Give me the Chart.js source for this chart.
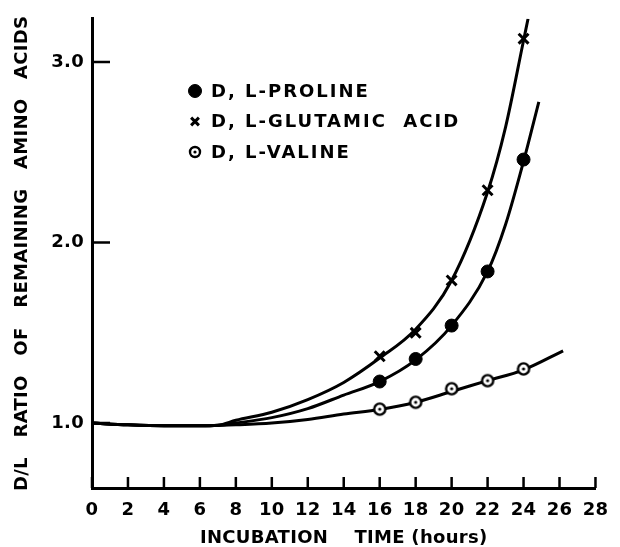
<!DOCTYPE html>
<html>
<head>
<meta charset="utf-8">
<script src="https://cdn.jsdelivr.net/npm/chart.js@4/dist/chart.umd.min.js"></script>
<style>
  html, body { margin: 0; padding: 0; background: #fff; }
</style>
</head>
<body>
<canvas id="chart" width="620" height="547"></canvas>
<script>
// Measured points (hours, D/L ratio)
const pointHours = [16, 18, 20, 22, 24];
const prolineValues = [1.23, 1.355, 1.54, 1.84, 2.46];
const glutamicValues = [1.37, 1.50, 1.79, 2.29, 3.13];
const valineValues = [1.077, 1.115, 1.19, 1.235, 1.30];

// Hand-drawn fitted curves
const glutamicCurveHours = [0, 2, 4, 6, 7, 8, 10, 12, 14, 16, 18, 20, 22, 23, 24, 24.25];
const glutamicCurve = [1.0, 0.99, 0.985, 0.985, 0.988, 1.015, 1.06, 1.13, 1.225, 1.36, 1.52, 1.79, 2.28, 2.64, 3.12, 3.24];
const prolineCurveHours = [0, 2, 4, 6, 7, 8, 10, 12, 14, 16, 18, 20, 22, 23, 24, 24.85];
const prolineCurve = [1.0, 0.99, 0.985, 0.985, 0.988, 1.0, 1.03, 1.08, 1.155, 1.23, 1.35, 1.54, 1.84, 2.1, 2.45, 2.78];
const valineCurveHours = [0, 2, 4, 6, 7, 8, 10, 12, 14, 16, 18, 20, 22, 24, 26.2];
const valineCurve = [1.0, 0.99, 0.985, 0.985, 0.987, 0.99, 1.0, 1.02, 1.05, 1.075, 1.115, 1.175, 1.235, 1.295, 1.40];

const xTicks = [0, 2, 4, 6, 8, 10, 12, 14, 16, 18, 20, 22, 24, 26, 28];
const yTicks = [1.0, 2.0, 3.0];
const seriesLabels = ['D, L-PROLINE', 'D, L-GLUTAMIC  ACID', 'D, L-VALINE'];

const pairs = (xs, ys) => xs.map((x, i) => ({ x, y: ys[i] }));

// open circle with a dot, for valine
function ringDot(r) {
  const s = Math.ceil(r * 2 + 4);
  const c = document.createElement('canvas');
  c.width = c.height = s;
  const g = c.getContext('2d');
  g.beginPath(); g.arc(s / 2, s / 2, r, 0, Math.PI * 2);
  g.fillStyle = '#fff'; g.fill();
  g.lineWidth = 2.4; g.strokeStyle = '#000'; g.stroke();
  g.beginPath(); g.arc(s / 2, s / 2, 1.6, 0, Math.PI * 2);
  g.fillStyle = '#000'; g.fill();
  return c;
}
const ring = ringDot(5.6);
const ringSmall = ringDot(5);

const markerSets = [
  { label: seriesLabels[0], data: pairs(pointHours, prolineValues), pointStyle: 'circle', pointRadius: 6.5, borderWidth: 1 },
  { label: seriesLabels[1], data: pairs(pointHours, glutamicValues), pointStyle: 'crossRot', pointRadius: 7, borderWidth: 3 },
  { label: seriesLabels[2], data: pairs(pointHours, valineValues), pointStyle: ring, pointRadius: 8, borderWidth: 0 }
].map(d => Object.assign({ type: 'scatter', showLine: false, backgroundColor: '#000', borderColor: '#000', pointHoverRadius: d.pointRadius }, d));

const curve = (xs, ys) => ({
  type: 'line', label: '', data: pairs(xs, ys), borderColor: '#000', borderWidth: 3,
  pointRadius: 0, cubicInterpolationMode: 'monotone', fill: false
});

// inward tick marks on both axes
const innerTicks = {
  id: 'innerTicks',
  afterDraw(chart) {
    const { ctx, chartArea: a, scales: { x, y } } = chart;
    ctx.save();
    ctx.strokeStyle = '#000';
    ctx.lineWidth = 2.5;
    ctx.beginPath();
    xTicks.forEach(v => {
      const px = x.getPixelForValue(v);
      ctx.moveTo(px, a.bottom); ctx.lineTo(px, a.bottom - 11);
    });
    yTicks.forEach(v => {
      const py = y.getPixelForValue(v);
      ctx.moveTo(a.left, py); ctx.lineTo(a.left + 18, py);
    });
    ctx.stroke();
    ctx.restore();
  }
};

// legend inside the plot, upper left
const legendStyles = [
  { pointStyle: 'circle', radius: 6.5, borderWidth: 1 },
  { pointStyle: 'crossRot', radius: 5.5, borderWidth: 3 },
  { pointStyle: ringSmall, radius: 7, borderWidth: 0 }
];
const innerLegend = {
  id: 'innerLegend',
  afterDraw(chart) {
    const { ctx } = chart;
    ctx.save();
    ctx.font = 'bold 18px "DejaVu Sans", sans-serif';
    ctx.letterSpacing = '2px';
    ctx.textBaseline = 'middle';
    markerSets.forEach((d, i) => {
      const yy = 91 + i * 30.5;
      const st = legendStyles[i];
      ctx.lineWidth = st.borderWidth;
      ctx.strokeStyle = '#000';
      ctx.fillStyle = '#000';
      Chart.helpers.drawPoint(ctx, Object.assign({ backgroundColor: '#000', borderColor: '#000', rotation: 0 }, st), 195, yy);
      ctx.fillStyle = '#000';
      ctx.fillText(d.label, 211, yy + 1);
    });
    ctx.restore();
  }
};

const textSpacing = {
  id: 'textSpacing',
  beforeDraw(chart) { chart.ctx.letterSpacing = '0.3px'; }
};

const tickFont = { family: '"DejaVu Sans", sans-serif', size: 18, weight: 'bold' };
const titleFont = { family: '"DejaVu Sans", sans-serif', size: 18, weight: 'bold', lineHeight: 1.0 };

new Chart(document.getElementById('chart'), {
  data: {
    datasets: markerSets.concat([
      curve(glutamicCurveHours, glutamicCurve),
      curve(prolineCurveHours, prolineCurve),
      curve(valineCurveHours, valineCurve)
    ])
  },
  options: {
    responsive: false,
    animation: false,
    layout: { padding: { top: 15, right: 16, left: 0, bottom: 0 } },
    plugins: { legend: { display: false }, tooltip: { enabled: false } },
    scales: {
      x: {
        type: 'linear', min: 0, max: 28,
        afterBuildTicks: s => { s.ticks = xTicks.map(v => ({ value: v })); },
        afterFit: s => { s.height = 59; },
        grid: { display: false, drawTicks: false },
        border: { display: true, color: '#000', width: 3 },
        ticks: { color: '#000', font: tickFont, padding: 12, maxRotation: 0, autoSkip: false, callback: v => String(v) },
        title: { display: true, text: 'INCUBATION    TIME (hours)', color: '#000', font: titleFont, padding: { top: 0, bottom: 0 } }
      },
      y: {
        type: 'linear', min: 0.64, max: 3.24,
        afterBuildTicks: s => { s.ticks = yTicks.map(v => ({ value: v })); },
        afterFit: s => { s.width = 92; },
        grid: { display: false, drawTicks: false },
        border: { display: true, color: '#000', width: 3 },
        ticks: { color: '#000', font: tickFont, padding: 8, callback: v => v.toFixed(1) },
        title: { display: true, text: 'D/L   RATIO   OF   REMAINING   AMINO   ACIDS', color: '#000', font: titleFont, padding: { top: 13, bottom: 0 } }
      }
    }
  },
  plugins: [textSpacing, innerTicks, innerLegend]
});
</script>
</body>
</html>
